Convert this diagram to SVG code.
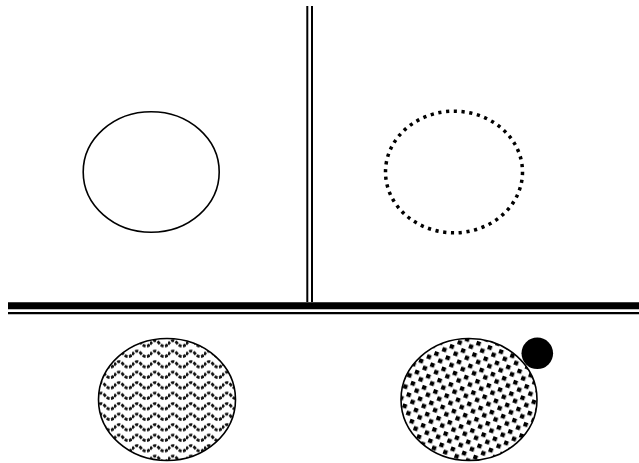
<svg xmlns="http://www.w3.org/2000/svg" width="639" height="463" viewBox="0 0 639 463">
<defs>
<style>
.ell{stroke:#000;stroke-width:1.6}
.rule{stroke:#000;fill:none}
</style>
<pattern id="wave" width="18" height="10.5" patternUnits="userSpaceOnUse" x="150" y="338">
<path d="M0 6.5 Q4.5 -0.5 9 5 Q13.5 10.5 18 6.5" fill="none" stroke="#111" stroke-width="2.8" stroke-dasharray="3.2 1.4"/>
</pattern>
<pattern id="checks" width="12" height="12" patternUnits="userSpaceOnUse" patternTransform="rotate(20)">
<rect x="1" y="1" width="4.3" height="4.3" fill="#000"/>
<rect x="7" y="6.5" width="4.3" height="4.3" fill="#000"/>
</pattern>
</defs>
<rect width="639" height="463" fill="#fff"/>
<g id="connectors">
<line class="rule" x1="307.3" y1="6" x2="307.3" y2="302" stroke-width="2"/>
<line class="rule" x1="312" y1="6" x2="312" y2="302" stroke-width="2"/>
<line class="rule" x1="8" y1="305.8" x2="639" y2="305.8" stroke-width="7"/>
<line class="rule" x1="8" y1="313.2" x2="639" y2="313.2" stroke-width="2.2"/>
</g>
<g id="node-solid">
<ellipse class="ell" cx="151.2" cy="172" rx="68" ry="60.2" fill="#fff"/>
</g>
<g id="node-dotted">
<ellipse cx="454" cy="172" rx="68.5" ry="60.8" fill="#fff" stroke="#000" stroke-width="3.5" stroke-dasharray="3.2 4.6"/>
</g>
<g id="node-wave">
<ellipse class="ell" cx="167" cy="399.5" rx="68.5" ry="61" fill="url(#wave)"/>
</g>
<g id="node-checks">
<ellipse class="ell" cx="469" cy="399.5" rx="68" ry="61" fill="url(#checks)"/>
</g>
<g id="node-dot">
<circle cx="537.3" cy="353.3" r="15.8" fill="#000"/>
</g>
</svg>
